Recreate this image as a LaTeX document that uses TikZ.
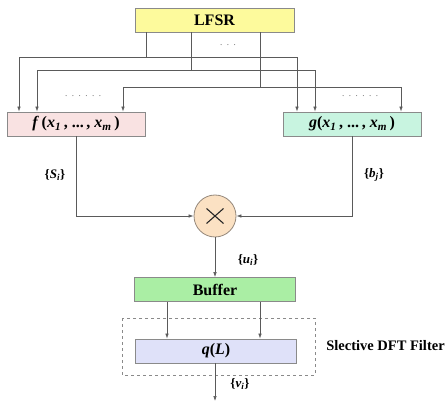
\documentclass[tikz,border=0pt]{standalone}
\usepackage{fontspec}
\setmainfont{Liberation Serif}
\usetikzlibrary{arrows.meta, positioning}
\definecolor{lfsrfill}{HTML}{FDFA9C}
\definecolor{ffill}{HTML}{F9E2E2}
\definecolor{gfill}{HTML}{C8F4E0}
\definecolor{mulfill}{HTML}{FBE1C3}
\definecolor{buffill}{HTML}{AAEEA4}
\definecolor{qfill}{HTML}{DFE1F9}
\definecolor{edge}{HTML}{8A8A8A}
\definecolor{wirec}{HTML}{5A5A5A}
\newcommand{\bi}[1]{\textbf{\textit{#1}}}
\newcommand{\sbi}[1]{\textsubscript{\textbf{\textit{#1}}}}

\begin{document}
\begin{tikzpicture}[x=1pt, y=-1pt,
    box/.style={draw=edge, line width=0.8pt, minimum height=24pt, inner sep=0pt,
                font=\fontsize{16}{18}\selectfont\bfseries},
    wire/.style={draw=wirec, line width=0.6pt},
    >={Latex[length=5pt,width=3.5pt]},
    lbl/.style={font=\fontsize{13}{15}\selectfont\bfseries, inner sep=1pt}]
\useasboundingbox (0,0) rectangle (447,403);

% blocks
\node[box, fill=lfsrfill, minimum width=159pt] (lfsr) at (214.5,20) {LFSR};
\node[box, fill=ffill, minimum width=138pt] (f) at (76,124)
  {\bi{f}\,(\bi{x}\sbi{1}\,, \textbf{...}\,, \bi{x}\sbi{m}\,)};
\node[box, fill=gfill, minimum width=138pt] (g) at (352,124)
  {\bi{g}(\bi{x}\sbi{1}\,, \textbf{...}\,, \bi{x}\sbi{m}\,)};
\node[circle, draw=edge!80!brown, line width=0.8pt, fill=mulfill, minimum size=42pt,
      inner sep=0pt] (mult) at (215,216) {};
\draw[line width=1.1pt, black!85] ([shift={(-8.5,-7.5)}]mult.center) -- ([shift={(8.5,7.5)}]mult.center)
  ([shift={(-8.5,7.5)}]mult.center) -- ([shift={(8.5,-7.5)}]mult.center);
\node[box, fill=buffill, minimum width=161pt] (buffer) at (215,289.5) {Buffer};
\node[box, fill=qfill, minimum width=161pt] (q) at (216,351)
  {\bi{q}(\bi{L})};
\draw[edge, dashed, line width=0.6pt] (122,318) rectangle (315,375);
\node[font=\fontsize{14.5}{16}\selectfont\bfseries] (dft) at (385.5,346) {Slective DFT Filter};

% taps from the register to both functions
\foreach \n/\tx/\by/\fx/\gx in {1/146/57/19/297, 2/191/70/37/315, 3/260/87/123/401} {
  \coordinate (tap\n) at (\tx,\by);
  \coordinate (fin\n) at (\fx,\by);
  \coordinate (gin\n) at (\gx,\by);
  \draw[wire] (lfsr.south -| tap\n) -- (tap\n);
  \draw[wire, ->] (tap\n) -| (f.north -| fin\n);
  \draw[wire, ->] (tap\n) -| (g.north -| gin\n);
}
\node[font=\small, text=black!60] (tapdots) at (228,45) {.\,\,\,.\,\,\,.};
\node[font=\small, text=black!60] (fdots) at (83,96) {.\,\,\,.\,\,\,.\,\,\,.\,\,\,.\,\,\,.};
\node[font=\small, text=black!60] (gdots) at (360,96) {.\,\,\,.\,\,\,.\,\,\,.\,\,\,.\,\,\,.};

% product and output chain
\draw[wire, ->] (f.south) |- (mult.west);
\draw[wire, ->] (g.south) |- (mult.east);
\node[lbl] (s) at (55,175) {\{\bi{S}\sbi{i}\}};
\node[lbl] (b) at (374,175) {\{\bi{b}\sbi{j}\}};
\draw[wire, ->] (mult.south) -- (buffer.north);
\node[lbl] (u) at (248,260) {\{\bi{u}\sbi{i}\}};
\coordinate (bl) at (167,0);
\coordinate (br) at (260,0);
\draw[wire, ->] (buffer.south -| bl) -- (q.north -| bl);
\draw[wire, ->] (buffer.south -| br) -- (q.north -| br);
\coordinate (out) at (215,401);
\draw[wire, ->] (q.south -| out) -- (out);
\node[lbl] (v) at (240,384) {\{\bi{v}\sbi{i}\}};
\end{tikzpicture}
\end{document}
